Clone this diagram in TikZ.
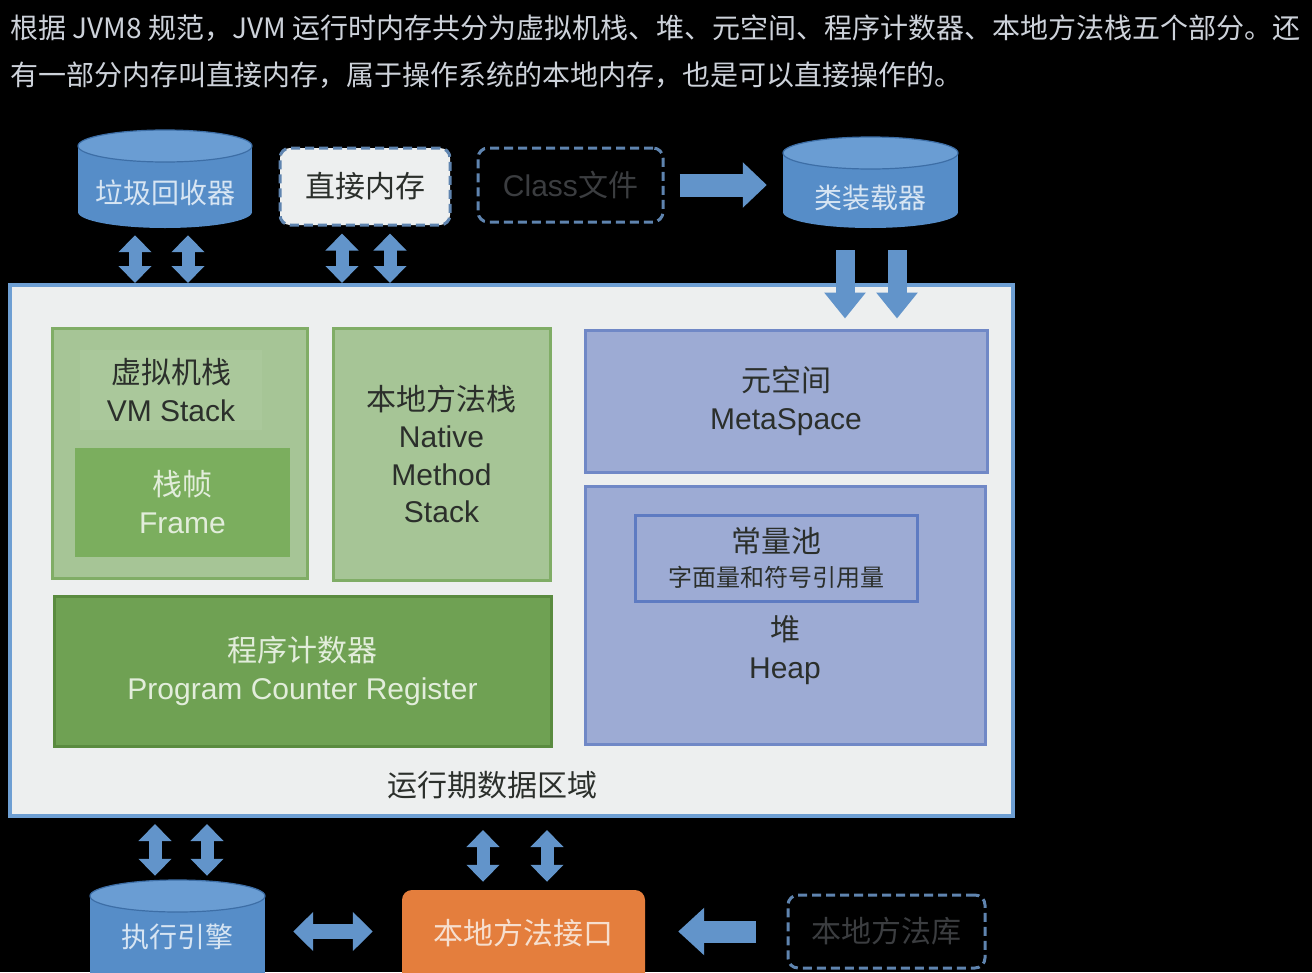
\documentclass[tikz,border=0pt]{standalone}
\usepackage{fontspec}
\setmainfont{Liberation Sans}
\newfontfamily\cjk{Noto Sans CJK SC}
\usetikzlibrary{arrows.meta}
\definecolor{introgray}{HTML}{CDD2DA}
\definecolor{areafill}{HTML}{EDEFEF}
\definecolor{arealine}{HTML}{6E9FD3}
\definecolor{lgrnfill}{HTML}{A6C596}
\definecolor{lgrnline}{HTML}{80AD66}
\definecolor{lgrnhi}{HTML}{AAC89B}
\definecolor{dgrnfill}{HTML}{7BAE5E}
\definecolor{pcfill}{HTML}{6FA153}
\definecolor{pcline}{HTML}{5A8B3F}
\definecolor{lighttext}{HTML}{E2EDDB}
\definecolor{viofill}{HTML}{9DABD4}
\definecolor{violine}{HTML}{7088C6}
\definecolor{poolline}{HTML}{5E7BC2}
\definecolor{drumbody}{HTML}{568DC8}
\definecolor{drumtop}{HTML}{6A9DD3}
\definecolor{drumrim}{HTML}{3D6EA6}
\definecolor{drumtext}{HTML}{D7E5F3}
\definecolor{dashline}{HTML}{5F84AF}
\definecolor{darktext}{HTML}{2B2F2B}
\definecolor{fainttext}{HTML}{3B3D40}
\definecolor{arrowblue}{HTML}{6294CA}
\definecolor{niffill}{HTML}{E47E3D}
\definecolor{niftext}{HTML}{F6DFCF}
\tikzset{intro/.style = {anchor=west, inner sep=0pt, text=introgray, font=\cjk\fontsize{28}{34}\selectfont},
           area/.style = {draw=arealine, fill=areafill, line width=4pt},
           lgrn/.style = {draw=lgrnline, fill=lgrnfill, line width=3pt, align=center, text=darktext, font=\fontsize{30}{37.5}\selectfont},
           dgrn/.style = {fill=dgrnfill, align=center, text=lighttext, font=\fontsize{30}{38}\selectfont},
           pcgrn/.style = {draw=pcline, fill=pcfill, line width=3pt, align=center, text=lighttext, font=\fontsize{30}{38}\selectfont},
           vio/.style = {draw=violine, fill=viofill, line width=3pt, align=center, text=darktext, font=\fontsize{30}{38}\selectfont},
           plain/.style = {align=center, text=darktext, font=\fontsize{30}{38}\selectfont},
           drumnode/.style = {inner sep=0pt},
           drumtxt/.style = {text=drumtext, font=\cjk\fontsize{28}{34}\selectfont},
           dsh/.style = {draw=dashline, line width=3pt, dash pattern=on 9pt off 5pt, rounded corners=10pt, font=\cjk\fontsize{30}{36}\selectfont},
           arr/.style = {draw=arrowblue, line width=13pt, {Triangle[width=32pt, length=17pt]}-{Triangle[width=32pt, length=17pt]}}}

\begin{document}
\begin{tikzpicture}[x=1pt, y=-1pt]
    \clip (0,0) rectangle (1312,972);
    \fill[black] (0,0) rectangle (1312,972);
    \node[intro] (line1) at (10,28) {根据 JVM8 规范，JVM 运行时内存共分为虚拟机栈、堆、元空间、程序计数器、本地方法栈五个部分。还};
    \node[intro] (line2) at (10,75) {有一部分内存叫直接内存，属于操作系统的本地内存，也是可以直接操作的。};

    % runtime data area
    \node[area, minimum width=1003pt, minimum height=531pt] (rt) at (511.5,550.5) {};
    \node[plain, font=\cjk\fontsize{30}{36}\selectfont] (rtname) at (492,785) {运行期数据区域};
    \node[lgrn, minimum width=255pt, minimum height=250pt] (vms) at (179.5,453) {};
    \node[lgrn, draw=none, fill=lgrnhi, minimum width=182pt, minimum height=80pt] (vmsname) at (171,390) {{\cjk 虚拟机栈}\\VM Stack};
    \node[dgrn, minimum width=215pt, minimum height=109pt] (frame) at (182.5,502.5) {{\cjk 栈帧}\\Frame};
    \node[lgrn, minimum width=217pt, minimum height=252pt] (nms) at (441.5,454) {{\cjk 本地方法栈}\\Native\\Method\\Stack};
    \node[pcgrn, minimum width=497pt, minimum height=150pt] (pcr) at (302.5,671) {{\cjk 程序计数器}\\Program Counter Register};
    \node[vio, minimum width=402pt, minimum height=142pt] (meta) at (786,401) {{\cjk 元空间}\\MetaSpace};
    \node[vio, minimum width=400pt, minimum height=258pt] (heap) at (785,615) {};
    \node[vio, draw=poolline, minimum width=282pt, minimum height=86pt, font=\cjk\fontsize{30}{34}\selectfont] (pool) at (776,558) {常量池\\{\fontsize{24}{34}\selectfont 字面量和符号引用量}};
    \node[plain] (heapname) at (785,650) {{\cjk 堆}\\Heap};

    % top row
    \fill[drumbody] (78,146) rectangle (252,212);
    \fill[drumbody] (165,212) ellipse [x radius=87pt, y radius=16pt];
    \filldraw[fill=drumtop, draw=drumrim, line width=1.2pt] (165,146) ellipse [x radius=87pt, y radius=16pt];
    \node[drumnode, minimum width=174pt, minimum height=98pt, label={[drumtxt, yshift=-14pt]center:垃圾回收器}] (gc) at (165,179) {};
    \node[dsh, fill=areafill, text=darktext, minimum width=170pt, minimum height=77pt] (dmem) at (365,186.5) {直接内存};
    \node[dsh, fill=black, text=fainttext, font=\fontsize{30}{36}\selectfont, minimum width=185pt, minimum height=74pt] (cls) at (570.5,185) {Class{\cjk 文件}};
    \fill[drumbody] (783,153) rectangle (958,212);
    \fill[drumbody] (870.5,212) ellipse [x radius=87.5pt, y radius=16pt];
    \filldraw[fill=drumtop, draw=drumrim, line width=1.2pt] (870.5,153) ellipse [x radius=87.5pt, y radius=16pt];
    \node[drumnode, minimum width=175pt, minimum height=91pt, label={[drumtxt, yshift=-15pt]center:类装载器}] (loader) at (870.5,182.5) {};

    % bottom row
    \fill[drumbody] (90,896) rectangle (265,990);
    \filldraw[fill=drumtop, draw=drumrim, line width=1.2pt] (177.5,896) ellipse [x radius=87.5pt, y radius=16pt];
    \node[drumnode, minimum width=175pt, minimum height=110pt, label={[drumtxt, yshift=-2pt]center:执行引擎}] (eng) at (177.5,935) {};
    \node[fill=niffill, rounded corners=10pt, text=niftext, font=\cjk\fontsize{30}{36}\selectfont, minimum width=243pt, minimum height=95pt, text depth=12pt] (nif) at (523.5,937.5) {本地方法接口};
    \node[dsh, fill=black, text=fainttext, minimum width=197pt, minimum height=73pt] (nlib) at (886.5,931.5) {本地方法库};

    % connectors
    \draw[arr] ([xshift=-30pt, yshift=-7pt]gc.south) -- ([xshift=-30pt]gc.south |- rt.north);
    \draw[arr] ([xshift=23pt, yshift=-7pt]gc.south) -- ([xshift=23pt]gc.south |- rt.north);
    \draw[arr] ([xshift=-23pt, yshift=-7pt]dmem.south) -- ([xshift=-23pt]dmem.south |- rt.north);
    \draw[arr] ([xshift=25pt, yshift=-7pt]dmem.south) -- ([xshift=25pt]dmem.south |- rt.north);
    \draw[arrowblue, line width=23pt, -{Triangle[width=44pt, length=24pt]}] ([xshift=15pt]cls.east) -- ([xshift=-16pt]loader.west |- cls.east);
    \draw[arrowblue, line width=19pt, -{Triangle[width=40pt, length=26pt]}] ([xshift=-25.5pt, yshift=-22pt]loader.south) -- ([xshift=-25.5pt, yshift=10pt]loader.south |- meta.north);
    \draw[arrowblue, line width=19pt, -{Triangle[width=40pt, length=26pt]}] ([xshift=26.5pt, yshift=-22pt]loader.south) -- ([xshift=26.5pt, yshift=10pt]loader.south |- meta.north);
    \draw[arr] ([xshift=-22.5pt, yshift=-6pt]eng.north |- rt.south) -- ([xshift=-22.5pt, yshift=4pt]eng.north);
    \draw[arr] ([xshift=29.5pt, yshift=-6pt]eng.north |- rt.south) -- ([xshift=29.5pt, yshift=4pt]eng.north);
    \draw[arr] ([xshift=-40.5pt, yshift=-12pt]nif.north |- rt.south) -- ([xshift=-40.5pt, yshift=8pt]nif.north);
    \draw[arr] ([xshift=23.5pt, yshift=-12pt]nif.north |- rt.south) -- ([xshift=23.5pt, yshift=8pt]nif.north);
    \draw[arr, line width=15pt, {Triangle[width=38pt, length=20pt]}-{Triangle[width=38pt, length=20pt]}] ([xshift=28pt, yshift=6pt]eng.east |- nif.west) -- ([xshift=-29pt, yshift=6pt]nif.west);
    \draw[arrowblue, line width=22pt, -{Triangle[width=46pt, length=26pt]}] ([xshift=-31pt]nlib.west) -- ([xshift=33pt]nif.east |- nlib.west);
  \end{tikzpicture}
\end{document}
